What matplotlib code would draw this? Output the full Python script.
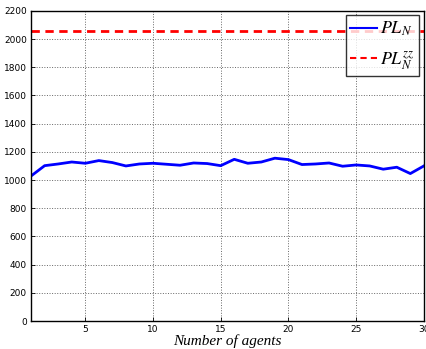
import matplotlib.pyplot as plt

plt.rcParams['mathtext.fontset'] = 'stix'

# number of agents and path length values
agents = list(range(1, 31))
pl_n = [1029, 1102, 1114, 1128, 1119, 1138, 1124, 1100, 1114, 1119,
        1112, 1105, 1121, 1117, 1102, 1147, 1119, 1128, 1155, 1145,
        1110, 1114, 1121, 1098, 1107, 1100, 1077, 1091, 1046, 1100]
pl_zz = 2055
y_ticks = list(range(0, 2201, 200))
x_ticks = [5, 10, 15, 20, 25, 30]

fig = plt.figure(figsize=(4.26, 3.49), dpi=100)
ax = fig.add_axes([0.073, 0.080, 0.922, 0.889])

ax.plot(agents, pl_n, color='#0000ff', lw=2.0, label=r'$PL_N$')
ax.plot(agents, [pl_zz] * len(agents), color='#ff0000', lw=2.0,
        ls=(0, (3, 2)), label=r'$PL_N^{zz}$')

ax.set_xlim(1, 30)
ax.set_ylim(0, 2200)
ax.set_xticks(x_ticks)
ax.set_yticks(y_ticks)
ax.tick_params(direction='in', labelsize=6.5, length=3, width=0.6, pad=3)
ax.grid(True, ls=':', color='#666666', lw=0.7)
for s in ax.spines.values():
    s.set_linewidth(1.0)

ax.set_xlabel('Number of agents', fontsize=11, family='Liberation Serif',
              style='italic', labelpad=0)

leg = ax.legend(loc='upper right', fontsize=13, frameon=True, fancybox=False,
                edgecolor='black', handlelength=1.5, handletextpad=0.15,
                borderpad=0.25, labelspacing=0.6, borderaxespad=0.25)
leg.get_frame().set_linewidth(1.0)
for h in leg.get_lines():
    h.set_linewidth(1.5)

fig.savefig('out.png', dpi=100)
